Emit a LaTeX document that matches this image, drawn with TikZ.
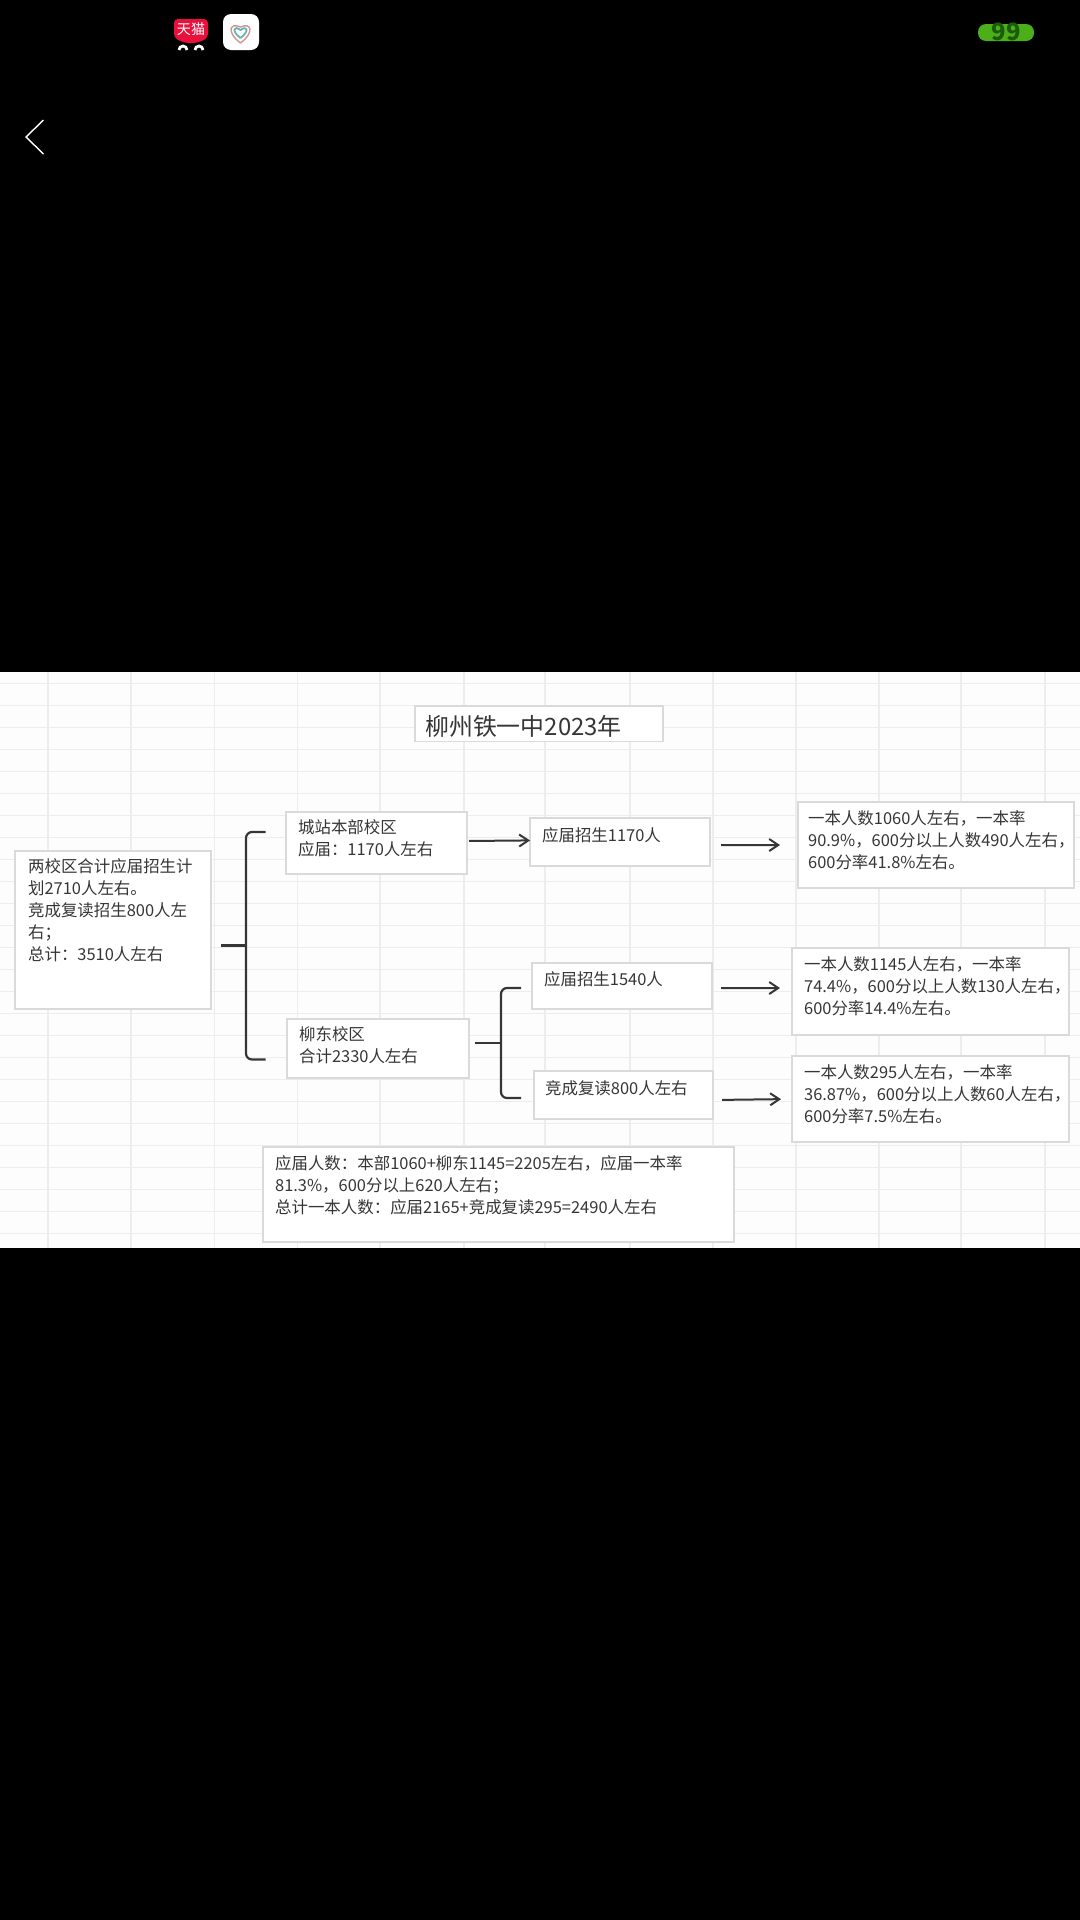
\documentclass[tikz,border=0pt]{standalone}
\usepackage{xcolor}
\usepackage{fontspec}
\setmainfont{Noto Sans CJK SC}
\usetikzlibrary{arrows.meta}
\definecolor{gridgray}{HTML}{EDEDED}
\definecolor{sheetwhite}{HTML}{FDFDFD}
\definecolor{cellgray}{HTML}{DADADA}
\definecolor{inkgray}{HTML}{363636}
\definecolor{tmallred}{HTML}{E8103C}
\definecolor{badgegreen}{HTML}{4CAF1A}
\definecolor{badgeink}{HTML}{1C5A0C}
\tikzset{
    cell/.style={draw=cellgray, line width=0.06cm, fill=white, inner sep=0pt, outer sep=0pt},
    celltext/.style={anchor=north west, inner sep=0pt, align=left, text=inkgray,
        font=\fontsize{23.4}{31.3}\selectfont},
    link/.style={draw=inkgray, line width=0.1cm, -{Straight Barb[length=0.45cm,width=0.6cm]}},
    bracket/.style={draw=inkgray, line width=0.11cm, rounded corners=0.3cm},
}
% name, left, top, right, bottom, text inset x, text inset y, text
\newcommand{\sheetcell}[8]{
    \node (#1) [cell, minimum width={(#4-#2)*0.05cm}, minimum height={(#5-#3)*0.05cm}] at ({(#2+#4)/2},{(#3+#5)/2}) {};
    \node (#1-text) [celltext] at (#2+#6,#3+#7) {#8};
}

\begin{document}
\begin{tikzpicture}[x=0.05cm, y=-0.05cm]
\useasboundingbox (0,0) rectangle (1080,1920);
\fill[black] (0,0) rectangle (1080,1920);

% Status bar icons
\fill[tmallred, rounded corners=0.2cm] (174,19) -- (208,19) -- (208,38) -- (197,43) -- (185,43) -- (174,38) -- cycle;
\node (tmall) at (191,29) [text=white, inner sep=0pt, font=\fontsize{20}{20}\selectfont] {天猫};
\draw[white, line width=0.14cm] (179,50) arc (180:360:4) (195,50) arc (180:360:4);
\fill[white, rounded corners=0.4cm] (223,14) rectangle (259,50);
\draw[red!40!gray!60, line width=0.07cm] (240.5,43) .. controls (226,32) and (230,22) .. (240.5,27) .. controls (251,22) and (255,32) .. (240.5,43);
\draw[teal!60, line width=0.09cm] (240.5,38) .. controls (231,31) and (234,25) .. (240.5,30) .. controls (247,25) and (250,31) .. (240.5,38);
\fill[badgegreen, rounded corners=0.4cm] (978,24) rectangle (1034,41);
\node (badge) at (1006,32) [text=badgeink, inner sep=0pt, font=\fontsize{34}{34}\bfseries\selectfont] {99};
\draw[white, line width=0.07cm] (43.5,120) -- (26,137) -- (43.5,154);

% Sheet with grid
\fill[sheetwhite] (0,672) rectangle (1080,1248);
\foreach \x in {48,131,214.5,297.5,380,464,545,630,713,796,879,961,1045} {
    \draw[gridgray, line width=0.06cm] (\x,672) -- (\x,1248);
}
\foreach \k in {0,...,25} {
    \draw[gridgray, line width=0.05cm] (0,683+22*\k) -- (1080,683+22*\k);
}

% Boxes
\sheetcell{total}{15}{851}{211}{1009}{13}{7}{两校区合计应届招生计\\划2710人左右。\\竞成复读招生800人左\\右；\\总计：3510人左右}
\sheetcell{town}{286}{812}{467}{874}{12}{7}{城站本部校区\\应届：1170人左右}
\sheetcell{east}{287}{1019}{469}{1078}{12}{7}{柳东校区\\合计2330人左右}
\sheetcell{planA}{530}{818}{710}{866}{12}{9}{应届招生1170人}
\sheetcell{planB}{532}{963}{712}{1009}{12}{8}{应届招生1540人}
\sheetcell{planC}{534}{1071}{713}{1119}{11}{9}{竞成复读800人左右}
\sheetcell{resA}{798}{802}{1074}{888}{10}{8}{一本人数1060人左右，一本率\\90.9\%，600分以上人数490人左右，\\600分率41.8\%左右。}
\sheetcell{resB}{792}{948}{1069}{1035}{12}{8}{一本人数1145人左右，一本率\\74.4\%，600分以上人数130人左右，\\600分率14.4\%左右。}
\sheetcell{resC}{792}{1056}{1069}{1142}{12}{8}{一本人数295人左右，一本率\\36.87\%，600分以上人数60人左右，\\600分率7.5\%左右。}
\sheetcell{sum}{263}{1147}{734}{1242}{12}{8}{应届人数：本部1060+柳东1145=2205左右，应届一本率\\81.3\%，600分以上620人左右；\\总计一本人数：应届2165+竞成复读295=2490人左右}

% Title
\node (title) [cell, minimum width=12.4cm, minimum height=1.78cm] at (539,723.8) {};
\node (title-text) [text=inkgray, inner sep=0pt, font=\fontsize{34}{40}\selectfont] at (523.5,726) {柳州铁一中2023年};

% Arrows
\draw[link, shorten <=0.1cm] ([yshift=0.1cm]town.east) -- ([yshift=0.08cm]planA.west);
\draw[link, shorten <=0.55cm, shorten >=0.9cm] ([yshift=-0.15cm]planA.east) -- (resA.west);
\draw[link, shorten <=0.45cm, shorten >=0.6cm] ([yshift=-0.1cm]planB.east) -- ([yshift=0.175cm]resB.west);
\draw[link, shorten <=0.45cm, shorten >=0.55cm] ([yshift=-0.25cm]planC.east) -- (resC.west);

% Brackets
\coordinate (bigTop) at (265.5,832);
\coordinate (bigBot) at (265.5,1059.5);
\coordinate (bigMid) at (246,945.5);
\coordinate (bigStem) at (221,945.5);
\draw[bracket] (bigTop) -| (bigMid) |- (bigBot);
\draw[bracket] (bigStem) -- (bigMid);

\coordinate (smallTop) at (521,988);
\coordinate (smallBot) at (521,1098);
\coordinate (smallMid) at (501,1043);
\coordinate (smallStem) at (475,1043);
\draw[bracket] (smallTop) -| (smallMid) |- (smallBot);
\draw[bracket] (smallStem) -- (smallMid);
\end{tikzpicture}
\end{document}
